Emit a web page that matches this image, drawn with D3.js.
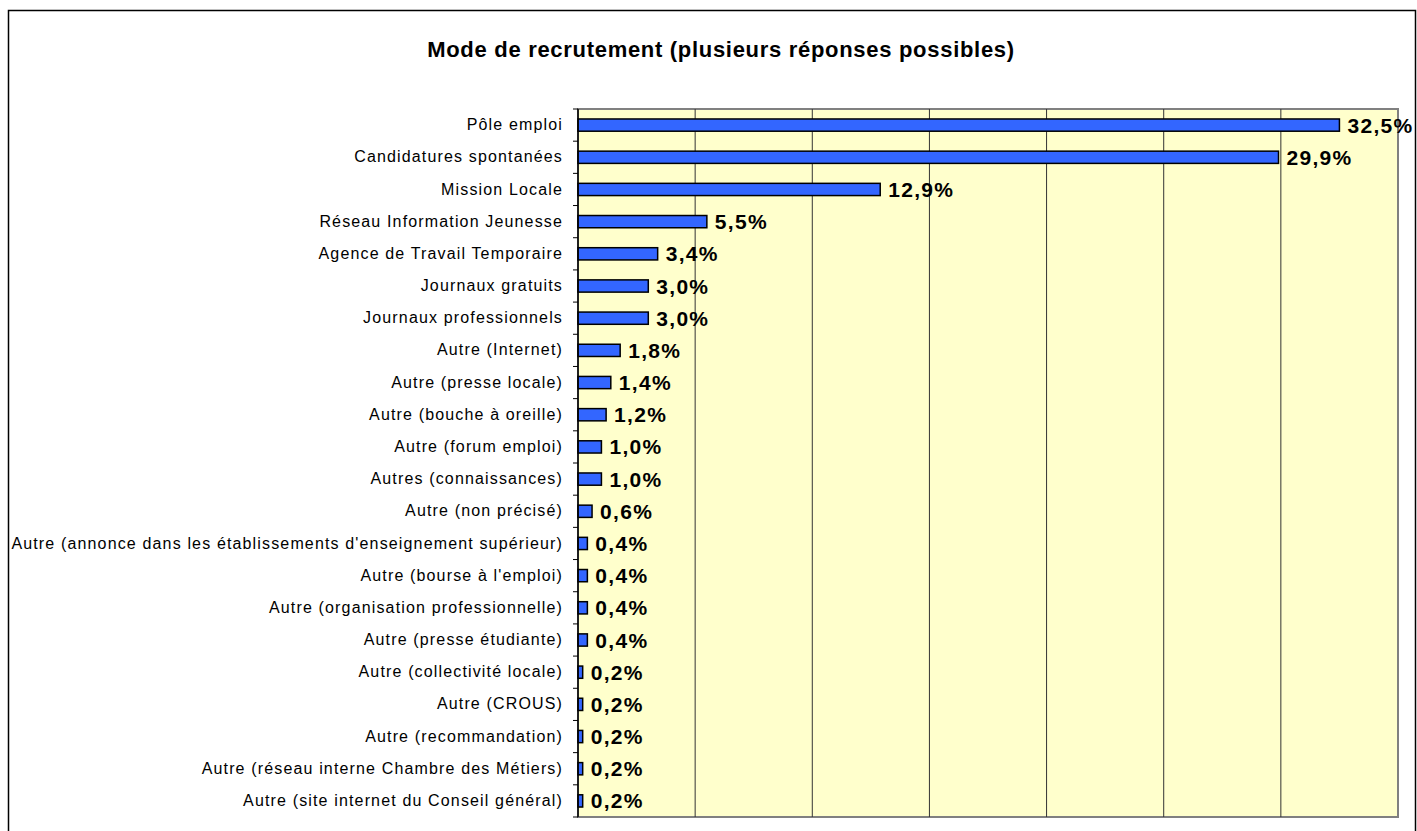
<!DOCTYPE html>
<html>
<head>
<meta charset="utf-8">
<script src="https://cdn.jsdelivr.net/npm/d3@7"></script>
<style>
  body { margin: 0; background: #fff; }
  svg { display: block; font-family: "Liberation Sans", Arial, sans-serif; }
</style>
</head>
<body>
<div id="chart"></div>
<script>
// data
const categories = [
  "Pôle emploi",
  "Candidatures spontanées",
  "Mission Locale",
  "Réseau Information Jeunesse",
  "Agence de Travail Temporaire",
  "Journaux gratuits",
  "Journaux professionnels",
  "Autre (Internet)",
  "Autre (presse locale)",
  "Autre (bouche à oreille)",
  "Autre (forum emploi)",
  "Autres (connaissances)",
  "Autre (non précisé)",
  "Autre (annonce dans les établissements d'enseignement supérieur)",
  "Autre (bourse à l'emploi)",
  "Autre (organisation professionnelle)",
  "Autre (presse étudiante)",
  "Autre (collectivité locale)",
  "Autre (CROUS)",
  "Autre (recommandation)",
  "Autre (réseau interne Chambre des Métiers)",
  "Autre (site internet du Conseil général)"
];
const values = [32.5, 29.9, 12.9, 5.5, 3.4, 3.0, 3.0, 1.8, 1.4, 1.2, 1.0, 1.0, 0.6,
                0.4, 0.4, 0.4, 0.4, 0.2, 0.2, 0.2, 0.2, 0.2];
const gridTicks = [0, 5, 10, 15, 20, 25, 30, 35];
const title = "Mode de recrutement (plusieurs réponses possibles)";

const data = categories.map((c, i) => ({ cat: c, v: values[i] }));

const W = 1417, H = 831;
const margin = { top: 109, right: 19, bottom: 14, left: 578 };
const width = W - margin.left - margin.right;
const height = H - margin.top - margin.bottom;

const svg = d3.select('#chart').append('svg')
  .attr('width', W)
  .attr('height', H);

// outer frame
svg.append('rect')
  .attr('x', 8.5).attr('y', 10.5)
  .attr('width', 1407).attr('height', 840)
  .attr('fill', 'none')
  .attr('stroke', '#000')
  .attr('stroke-width', 1.5);

svg.append('text')
  .attr('x', 721).attr('y', 57)
  .attr('text-anchor', 'middle')
  .style('font-weight', 'bold')
  .style('font-size', '22px')
  .style('letter-spacing', '0.7px')
  .text(title);

const g = svg.append('g')
  .attr('transform', 'translate(' + margin.left + ',' + margin.top + ')');

const x = d3.scaleLinear().domain([0, 35]).range([0, width]);
const y = d3.scaleBand().domain(categories).range([0, height]).paddingInner(0.62).paddingOuter(0.31);

// plot background
g.append('rect')
  .attr('width', width).attr('height', height)
  .attr('fill', '#FFFFCC')
  .attr('stroke', '#808080')
  .attr('stroke-width', 2);

// vertical grid
g.append('g')
  .selectAll('line')
  .data(gridTicks.slice(1, -1))
  .enter().append('line')
    .attr('x1', d => x(d)).attr('x2', d => x(d))
    .attr('y1', 0).attr('y2', height)
    .attr('stroke', '#333')
    .attr('stroke-width', 1);

// bars
g.append('g')
  .selectAll('rect')
  .data(data)
  .enter().append('rect')
    .attr('x', 0)
    .attr('y', d => y(d.cat))
    .attr('width', d => x(d.v))
    .attr('height', y.bandwidth())
    .attr('fill', '#3366FF')
    .attr('stroke', '#000')
    .attr('stroke-width', 1.5);

// value labels
g.append('g')
  .selectAll('text')
  .data(data)
  .enter().append('text')
    .attr('x', d => x(d.v) + 8)
    .attr('y', d => y(d.cat) + y.bandwidth() / 2)
    .attr('dy', '0.36em')
    .style('font-weight', 'bold')
    .style('font-size', '21px')
    .style('letter-spacing', '1.3px')
    .text(d => d.v.toFixed(1).replace('.', ',') + '%');

// left axis with ticks on the band edges
const edges = d3.range(categories.length + 1).map(i => i * height / categories.length);
const axis = g.append('g');
axis.append('line')
  .attr('x1', 0).attr('x2', 0).attr('y1', 0).attr('y2', height)
  .attr('stroke', '#000').attr('stroke-width', 1.5);
axis.selectAll('.edge')
  .data(edges)
  .enter().append('line')
    .attr('class', 'edge')
    .attr('x1', -5).attr('x2', 0)
    .attr('y1', d => d).attr('y2', d => d)
    .attr('stroke', '#000').attr('stroke-width', 1);

g.append('g')
  .call(d3.axisLeft(y).tickSize(0).tickPadding(15))
  .call(a => a.select('.domain').remove())
  .selectAll('text')
    .style('font-family', '"Liberation Sans", Arial, sans-serif')
    .style('font-size', '16px')
    .style('letter-spacing', '1.15px')
    .attr('fill', '#000');
</script>
</body>
</html>
